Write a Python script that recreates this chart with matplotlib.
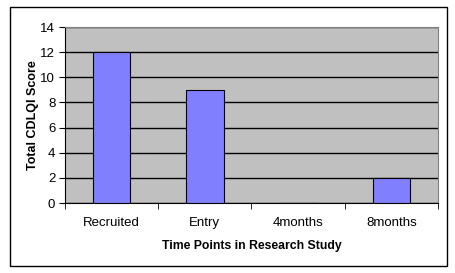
import matplotlib.pyplot as plt
from matplotlib.patches import Rectangle

# Daten
zeitpunkte = ['Recruited', 'Entry', '4months', '8months']
cdlqi_werte = [12, 9, 0, 2]

plt.rcParams['font.family'] = ['Liberation Sans', 'DejaVu Sans']

fig = plt.figure(figsize=(4.56, 2.73), dpi=100)
W, H = 456, 273
ax = fig.add_axes([65 / W, 1 - 203 / H, (438 - 65) / W, (203 - 27) / H])

# Rahmen um das ganze Diagramm
fig.patches.append(Rectangle((10 / W, 1 - 266 / H), 437 / W, 259 / H,
                             transform=fig.transFigure, fill=False,
                             edgecolor='black', linewidth=1))

ax.set_facecolor('#c0c0c0')
pos = range(len(zeitpunkte))
ax.bar(pos, cdlqi_werte, width=0.4, color='#8080ff', edgecolor='black',
       linewidth=0.8, zorder=3)

ax.set_xlim(-0.5, len(zeitpunkte) - 0.5)
ax.set_ylim(0, 14)
ax.set_yticks(range(0, 15, 2))
ax.yaxis.grid(True, color='black', linewidth=1, zorder=1)
ax.set_axisbelow(True)

ax.set_xticks(list(pos))
ax.set_xticklabels(zeitpunkte, fontsize=9.5)
ax.set_xticks([i + 0.5 for i in range(-1, len(zeitpunkte))], minor=True)
ax.tick_params(axis='x', which='major', length=0, pad=10)
ax.tick_params(axis='x', which='minor', length=4, direction='out', color='black')
ax.tick_params(axis='y', labelsize=9.5, length=4, direction='out', pad=3)

for s in ['top', 'right']:
    ax.spines[s].set_color('#808080')
for s in ['left', 'bottom']:
    ax.spines[s].set_color('black')

ax.set_xlabel('Time Points in Research Study', fontsize=8.8, fontweight='bold', labelpad=8)
ax.set_ylabel('Total CDLQI Score', fontsize=9, fontweight='bold', labelpad=1)

plt.savefig('out.png', dpi=100)
